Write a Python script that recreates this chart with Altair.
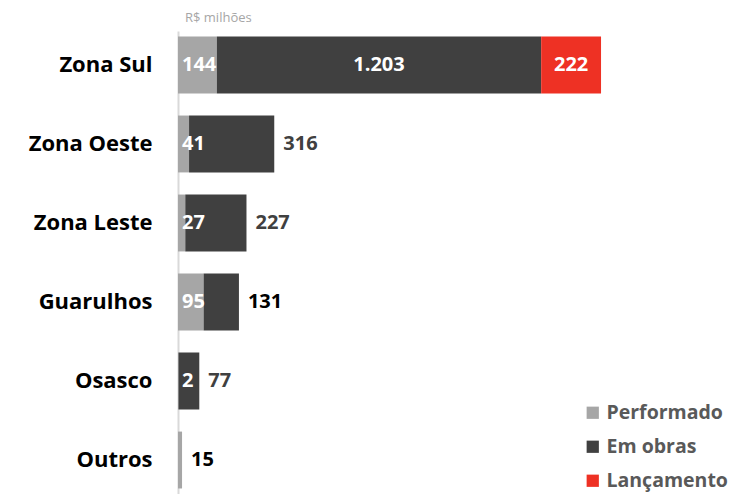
import altair as alt
import pandas as pd

categories = ["Zona Sul", "Zona Oeste", "Zona Leste", "Guarulhos", "Osasco", "Outros"]
performado = [144, 41, 27, 95, 2, 15]
em_obras = [1203, 316, 227, 131, 77, 0]
lancamento = [222, 0, 0, 0, 0, 0]
series = ["Performado", "Em obras", "Lançamento"]
colors = ["#A6A6A6", "#404040", "#EE3124"]

FONT = "Open Sans"

def fmt(v):
    return f"{v:,}".replace(",", ".")

rows = []
labels = []
for i, c in enumerate(categories):
    vals = [performado[i], em_obras[i], lancamento[i]]
    start = 0
    for j, (s, v) in enumerate(zip(series, vals)):
        if v > 0:
            rows.append({"cat": c, "series": s, "order": j, "start": start, "end": start + v})
        start += v
    total = start
    if em_obras[i] > 0:
        labels.append({"cat": c, "text": fmt(performado[i]), "x": 0, "kind": "left", "color": "white"})
    else:
        labels.append({"cat": c, "text": fmt(performado[i]), "x": total, "kind": "out", "color": "black"})
    if em_obras[i] > 0:
        if em_obras[i] > 500:
            labels.append({"cat": c, "text": fmt(em_obras[i]), "x": performado[i] + em_obras[i] / 2, "kind": "center", "color": "white"})
        else:
            col = "black" if c == "Guarulhos" else "#404040"
            labels.append({"cat": c, "text": fmt(em_obras[i]), "x": total, "kind": "out", "color": col})
    if lancamento[i] > 0:
        labels.append({"cat": c, "text": fmt(lancamento[i]), "x": performado[i] + em_obras[i] + lancamento[i] / 2, "kind": "center", "color": "white"})

bars_df = pd.DataFrame(rows)
lab_df = pd.DataFrame(labels)

xscale = alt.Scale(domain=[0, 2077], nice=False, zero=True)
yscale = alt.Scale(domain=categories, paddingInner=0.28, paddingOuter=0.07)

bars = alt.Chart(bars_df).mark_bar().encode(
    x=alt.X("start:Q", scale=xscale, axis=None),
    x2="end:Q",
    y=alt.Y("cat:N", scale=yscale, title=None,
            axis=alt.Axis(labelFont=FONT, labelFontSize=22, labelFontWeight="bold", labelColor="black",
                          labelPadding=26, ticks=False, domainColor="#D9D9D9", domainWidth=2, grid=False)),
    color=alt.Color("series:N", scale=alt.Scale(domain=series, range=colors),
                    legend=alt.Legend(title=None, orient="none", legendX=405, legendY=372,
                                      symbolType="square", symbolSize=150, symbolStrokeWidth=0,
                                      labelFont=FONT, labelFontSize=19.5, labelFontWeight="bold",
                                      labelColor="#595959", rowPadding=13, symbolOpacity=1)),
    order="order:Q",
)

def text_layer(kind, align, dx):
    return alt.Chart(lab_df).transform_filter(alt.datum.kind == kind).mark_text(
        align=align, baseline="middle", dx=dx, font=FONT, fontSize=20, fontWeight="bold"
    ).encode(
        x=alt.X("x:Q", scale=xscale),
        y=alt.Y("cat:N", scale=yscale),
        text="text:N",
        color=alt.Color("color:N", scale=None),
    )

chart = alt.layer(
    bars,
    text_layer("left", "left", 4),
    text_layer("center", "center", 0),
    text_layer("out", "left", 9),
).properties(
    width=560, height=463,
    title=alt.Title("R$ milhões", anchor="start", frame="group", fontSize=13, font=FONT, fontWeight="normal",
                    color="#A6A6A6", offset=6, dx=7),
    padding={"left": 20, "top": 4, "right": 5, "bottom": 0},
).configure_view(stroke=None)

chart.save("out.html", embed_options={"renderer": "svg", "actions": False})
